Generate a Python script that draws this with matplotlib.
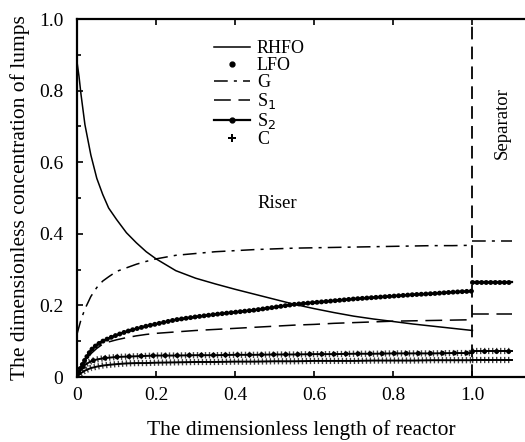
import matplotlib
matplotlib.use('Agg')
from matplotlib import pyplot as plt
from matplotlib.lines import Line2D
from matplotlib.ticker import MultipleLocator, FixedLocator

plt.rcParams['font.family'] = ['Liberation Serif', 'DejaVu Serif']

# riser positions (dimensionless length)
x = [0, 0.005, 0.01, 0.02, 0.035, 0.05, 0.065, 0.08, 0.1, 0.125, 0.15, 0.175,
     0.2, 0.25, 0.3, 0.35, 0.4, 0.45, 0.5, 0.55, 0.6, 0.65, 0.7, 0.75, 0.8,
     0.85, 0.9, 0.95, 1.0]

rhfo = [0.88, 0.84, 0.79, 0.705, 0.62, 0.555, 0.51, 0.472, 0.44, 0.403, 0.375,
        0.35, 0.33, 0.297, 0.276, 0.26, 0.245, 0.231, 0.217, 0.203, 0.191,
        0.18, 0.17, 0.162, 0.155, 0.148, 0.142, 0.136, 0.13]
lfo = [0.0, 0.012, 0.022, 0.034, 0.044, 0.049, 0.052, 0.054, 0.056, 0.057,
       0.058, 0.059, 0.06, 0.06, 0.061, 0.061, 0.062, 0.062, 0.063, 0.063,
       0.064, 0.064, 0.065, 0.065, 0.066, 0.066, 0.066, 0.067, 0.067]
g = [0.12, 0.14, 0.16, 0.19, 0.225, 0.25, 0.268, 0.28, 0.295, 0.305, 0.315,
     0.323, 0.33, 0.34, 0.345, 0.35, 0.353, 0.356, 0.358, 0.36, 0.361, 0.362,
     0.363, 0.364, 0.365, 0.366, 0.367, 0.367, 0.368]
s1 = [0.0, 0.012, 0.022, 0.04, 0.065, 0.08, 0.092, 0.098, 0.104, 0.11, 0.115,
      0.119, 0.122, 0.126, 0.13, 0.133, 0.136, 0.139, 0.142, 0.145, 0.147,
      0.15, 0.152, 0.154, 0.156, 0.157, 0.158, 0.159, 0.16]
s2 = [0.0, 0.015, 0.028, 0.048, 0.075, 0.09, 0.1, 0.108, 0.117, 0.127, 0.135,
      0.142, 0.148, 0.16, 0.168, 0.175, 0.181, 0.187, 0.195, 0.203, 0.208,
      0.213, 0.218, 0.222, 0.226, 0.23, 0.233, 0.237, 0.24]
c = [0.0, 0.006, 0.011, 0.018, 0.025, 0.029, 0.032, 0.034, 0.036, 0.038,
     0.039, 0.039, 0.04, 0.041, 0.042, 0.042, 0.043, 0.043, 0.044, 0.044,
     0.045, 0.045, 0.045, 0.046, 0.046, 0.046, 0.047, 0.047, 0.047]

# separator section
x_sep = [1.0, 1.1]
lfo_sep = [0.073, 0.073]
g_sep = [0.38, 0.38]
s1_sep = [0.176, 0.176]
s2_sep = [0.265, 0.265]
c_sep = [0.048, 0.048]

k = 'black'
st_g = dict(color=k, lw=1.1, ls=(0, (9, 4, 2, 4)))
st_s1 = dict(color=k, lw=1.1, ls=(0, (11, 5)))


def hatched(xs, ys):
    # line with closely packed plus-like marks
    ax.plot(xs, ys, color=k, lw=1.4)
    ax.plot(xs, ys, color=k, lw=4.5, ls=(0, (0.22, 0.42)),
            dash_capstyle='butt', alpha=0.75)


def dotted(xs, ys, lw=3.4, gap=1.1):
    ax.plot(xs, ys, color=k, lw=lw, ls=(0, (0.01, gap)),
            dash_capstyle='round')


fig = plt.figure(figsize=(5.25, 4.42), dpi=100)
ax = fig.add_axes([0.1467, 0.147, 0.8533, 0.81])

ax.plot(x, rhfo, color=k, lw=1.1)
hatched(x, lfo)
dotted(x, lfo, lw=3.6, gap=2.4)
ax.plot(x, g, **st_g)
ax.plot(x, s1, **st_s1)
ax.plot(x, s2, color=k, lw=1.6)
dotted(x, s2, lw=3.6, gap=0.9)
hatched(x, c)

hatched(x_sep, lfo_sep)
dotted(x_sep, lfo_sep, lw=3.6, gap=2.4)
ax.plot(x_sep, g_sep, **st_g)
ax.plot(x_sep, s1_sep, **st_s1)
ax.plot(x_sep, s2_sep, color=k, lw=1.6)
dotted(x_sep, s2_sep, lw=3.6, gap=0.9)
hatched(x_sep, c_sep)

ax.axvline(1.0, color=k, lw=1.3, ls=(0, (7, 4)))

ax.text(0.456, 0.472, 'Riser', fontsize=13.5)
ax.text(1.075, 0.71, 'Separator', fontsize=13.5, rotation=90, va='center',
        ha='center')

ax.set_xlim(0, 1.133)
ax.set_ylim(0, 1.0)
ticks = [0, 0.2, 0.4, 0.6, 0.8, 1.0]
tick_labels = ['0', '0.2', '0.4', '0.6', '0.8', '1.0']
ax.xaxis.set_major_locator(FixedLocator(ticks))
ax.set_xticklabels(tick_labels)
ax.yaxis.set_major_locator(FixedLocator(ticks))
ax.set_yticklabels(tick_labels)
ax.yaxis.set_minor_locator(MultipleLocator(0.1))
ax.tick_params(direction='in', labelsize=14, width=1.2, length=4, top=True)
ax.tick_params(which='minor', direction='in', width=1.2, length=3)
ax.tick_params(axis='x', pad=7)
ax.tick_params(axis='y', pad=10)
ax.spines['right'].set_visible(False)
for sp in ['left', 'top', 'bottom']:
    ax.spines[sp].set_linewidth(1.6)

ax.set_xlabel('The dimensionless length of reactor', fontsize=15.5,
              labelpad=12)
ax.set_ylabel('The dimensionless concentration of lumps', fontsize=15.5,
              labelpad=6)

handles = [
    Line2D([], [], color=k, lw=1.1),
    Line2D([], [], color=k, ls='none', marker='.', ms=7),
    Line2D([], [], **st_g),
    Line2D([], [], **st_s1),
    Line2D([], [], color=k, lw=1.6, marker='.', ms=7),
    Line2D([], [], color=k, ls='none', marker='P', ms=6, mew=0),
]
labels = ['RHFO', 'LFO', 'G', 'S$_1$', 'S$_2$', 'C']
ax.legend(handles, labels, loc='upper left', bbox_to_anchor=(0.305, 0.94),
          frameon=False, fontsize=13, handlelength=2.0, labelspacing=0.0,
          borderpad=0, borderaxespad=0, handletextpad=0.4)

fig.savefig('out.png', dpi=100)
